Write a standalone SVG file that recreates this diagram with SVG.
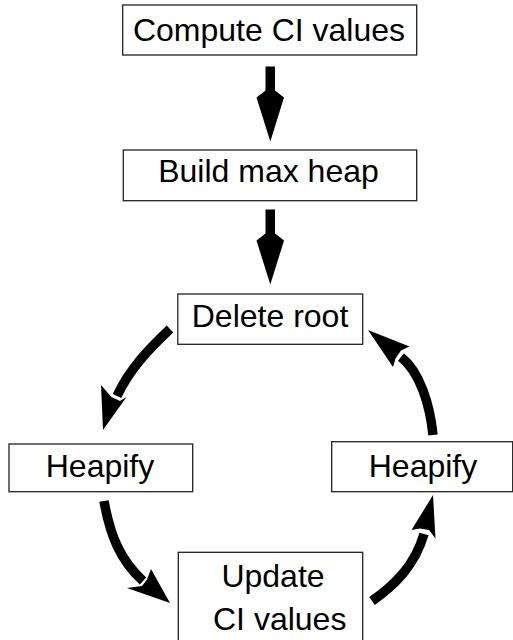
<svg xmlns="http://www.w3.org/2000/svg" width="513" height="640" viewBox="0 0 513 640">
<style>
.box{fill:#fff;stroke:#222;stroke-width:1.3}
.lbl{font-family:"Liberation Sans",Arial,sans-serif;font-size:32px;fill:#000}
.shaft{fill:none;stroke:#000;stroke-width:9.5;stroke-linecap:butt}
.head{fill:#000;stroke:none}
</style>
<defs>
<path id="vhead" d="M265.5,0 H275 V24 L284,31 L270.3,75 L256.5,31 L265.5,24 Z"/>
</defs>
<rect width="513" height="640" fill="#fff"/>
<g id="connectors">
<use href="#vhead" class="head" transform="translate(0,66.5)"/>
<use href="#vhead" class="head" transform="translate(0,209.5)"/>
<path class="shaft" d="M170,329 C150,348 130,368 117,396"/>
<polygon class="head" points="103,430 126.5,397 120,401 111.4,397 101,385"/>
<path class="shaft" d="M433,435 C430,405 420,372 401,357"/>
<polygon class="head" points="368,330 409.5,346.5 401,350.5 395.5,358.5 393,367"/>
<path class="shaft" d="M104,501 C110,535 120,560 143,581"/>
<polygon class="head" points="170,603 151,569 147,579.5 142,586 127,588"/>
<path class="shaft" d="M372,601 C395,585 415,565 424,534"/>
<polygon class="head" points="433,495 435.5,538.5 429,530 420,528.5 411.5,530"/>
</g>
<g id="node-compute">
<rect class="box" x="122.7" y="5" width="294" height="50"/>
<text class="lbl" x="269" y="41" text-anchor="middle">Compute CI values</text>
</g>
<g id="node-build">
<rect class="box" x="123.3" y="150" width="293.4" height="50.7"/>
<text class="lbl" x="268.5" y="182" text-anchor="middle">Build max heap</text>
</g>
<g id="node-delete">
<rect class="box" x="177.8" y="294" width="184.9" height="50.3"/>
<text class="lbl" x="270" y="327" text-anchor="middle">Delete root</text>
</g>
<g id="node-heapify-left">
<rect class="box" x="9" y="444" width="183.7" height="47.7"/>
<text class="lbl" x="100" y="477" text-anchor="middle">Heapify</text>
</g>
<g id="node-heapify-right">
<rect class="box" x="331.7" y="441.7" width="181" height="50"/>
<text class="lbl" x="423" y="477" text-anchor="middle">Heapify</text>
</g>
<g id="node-update">
<rect class="box" x="178.3" y="552.3" width="184.4" height="100"/>
<text class="lbl" x="273" y="587" text-anchor="middle">Update</text>
<text class="lbl" x="213" y="630">CI values</text>
</g>
</svg>
